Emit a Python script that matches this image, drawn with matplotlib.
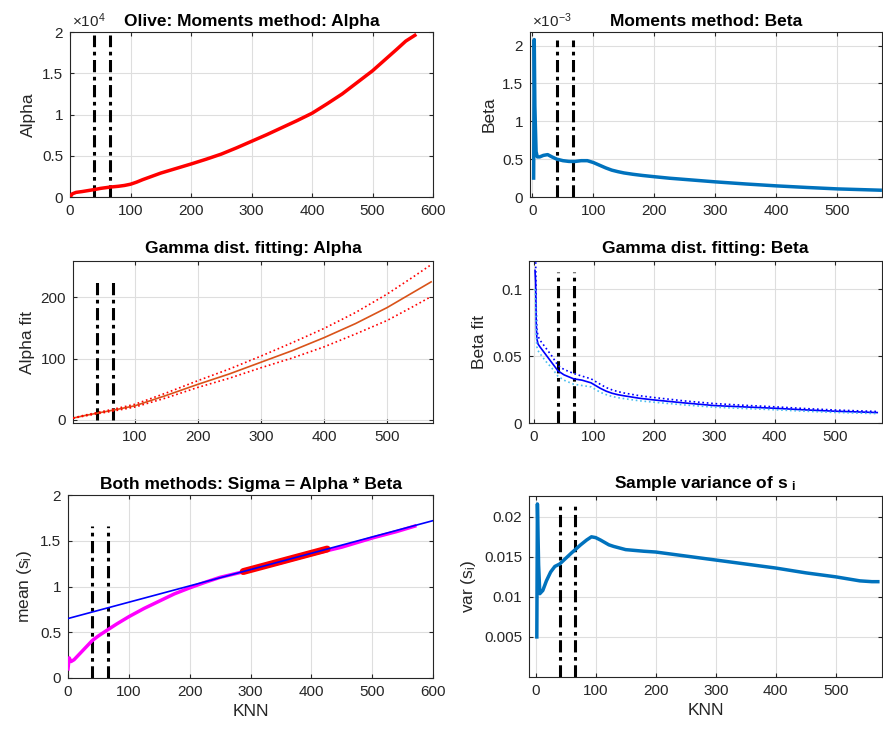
import numpy as np
import matplotlib.pyplot as plt
from matplotlib.ticker import FuncFormatter

plt.rcParams['font.family'] = ['Liberation Sans', 'DejaVu Sans']
plt.rcParams['mathtext.fontset'] = 'custom'
plt.rcParams['mathtext.rm'] = 'Liberation Sans'
plt.rcParams['mathtext.it'] = 'Liberation Sans'
plt.rcParams['mathtext.bf'] = 'Liberation Sans:bold'

# neighbourhood sizes marked on every panel
knn_marks = [40, 66]

# moments method
knn_a = [2, 3, 5, 10, 20, 30, 40, 50, 66, 80, 90, 100, 110, 120, 135, 150, 175, 200, 225, 250, 275, 300,
         325, 350, 375, 400, 425, 450, 475, 500, 520, 540, 555, 570]
alpha_mm = [200, 350, 420, 560, 660, 780, 900, 1040, 1200, 1300, 1400, 1550, 1800, 2100, 2500, 2900, 3450,
            4000, 4580, 5200, 5950, 6750, 7550, 8400, 9250, 10150, 11300, 12500, 13900, 15300, 16600, 17900,
            18900, 19600]

knn_b = [2, 3, 4, 6, 8, 12, 18, 25, 32, 40, 50, 60, 70, 80, 90, 100, 110, 120, 130, 140, 150, 165, 180, 200,
         225, 250, 300, 350, 400, 450, 500, 570]
beta_mm = [0.25e-3, 2.08e-3, 1.2e-3, 0.6e-3, 0.53e-3, 0.53e-3, 0.55e-3, 0.56e-3, 0.53e-3, 0.50e-3,
           0.48e-3, 0.47e-3, 0.47e-3, 0.48e-3, 0.48e-3, 0.455e-3, 0.42e-3, 0.385e-3, 0.355e-3, 0.335e-3,
           0.318e-3, 0.300e-3, 0.285e-3, 0.268e-3, 0.248e-3, 0.232e-3, 0.2e-3, 0.172e-3, 0.147e-3,
           0.126e-3, 0.107e-3, 0.09e-3]

# gamma fit with confidence bounds
knn_f = [2, 20, 40, 66, 100, 150, 200, 250, 300, 350, 400, 450, 500, 540, 570]
alpha_fit = [3, 7, 11, 16, 23, 40, 58, 75, 94, 113, 134, 157, 183, 207, 225]
alpha_up = [3.3, 7.7, 12, 17.5, 25.5, 44, 64, 83, 104, 126, 149, 175, 205, 232, 253]
alpha_lo = [2.7, 6.3, 10, 14.5, 21, 36, 53, 68, 85, 101, 119, 140, 162, 184, 201]

knn_g = [2, 3, 4, 5, 7, 10, 15, 20, 30, 40, 50, 66, 80, 95, 110, 120, 130, 140, 150, 175, 200, 250, 300, 350,
         400, 450, 500, 570]
beta_fit = [0.114, 0.105, 0.075, 0.063, 0.059, 0.057, 0.054, 0.051, 0.045, 0.039, 0.036, 0.033, 0.032, 0.030,
            0.026, 0.0238, 0.0222, 0.0211, 0.0203, 0.0185, 0.0172, 0.015, 0.013, 0.012, 0.011, 0.0098,
            0.0088, 0.0078]
beta_up = [0.13, 0.125, 0.085, 0.070, 0.065, 0.062, 0.059, 0.056, 0.050, 0.043, 0.040, 0.037, 0.035, 0.033,
           0.029, 0.0265, 0.0247, 0.0234, 0.0224, 0.0204, 0.019, 0.0165, 0.0145, 0.0132, 0.0121, 0.0108,
           0.0097, 0.0086]
beta_lo = [0.10, 0.09, 0.066, 0.057, 0.054, 0.052, 0.049, 0.046, 0.041, 0.035, 0.032, 0.029, 0.028, 0.027,
           0.023, 0.0212, 0.0198, 0.0189, 0.0182, 0.0166, 0.0155, 0.0135, 0.0118, 0.0108, 0.0099, 0.0088,
           0.0079, 0.0070]

# sample mean and variance of s_i
knn_m = [0, 2, 5, 10, 20, 30, 40, 50, 66, 80, 100, 125, 150, 175, 200, 225, 250, 300, 350, 400, 450, 500, 540, 570]
mean_s = [0.1, 0.22, 0.18, 0.2, 0.27, 0.34, 0.41, 0.46, 0.53, 0.59, 0.67, 0.76, 0.84, 0.92, 0.985, 1.045, 1.10,
          1.18, 1.26, 1.35, 1.43, 1.53, 1.60, 1.66]
lin_coef = [0.001783, 0.65]   # slope, intercept
lin_span = [0, 600]
fit_span = [288, 426]

knn_v = [2, 3, 5, 7, 12, 18, 25, 32, 40, 50, 60, 66, 75, 85, 93, 100, 108, 115, 122, 130, 140, 150, 165, 180, 200,
         250, 300, 350, 400, 450, 500, 540, 560, 570]
var_s = [0.005, 0.0216, 0.014, 0.0104, 0.0108, 0.0120, 0.0131, 0.0138, 0.0141, 0.0148, 0.0155, 0.0159, 0.0165,
         0.0171, 0.0175, 0.0174, 0.0171, 0.0168, 0.0165, 0.0163, 0.0161, 0.0159, 0.0158, 0.0157, 0.0156,
         0.0151, 0.0146, 0.0141, 0.0136, 0.0130, 0.0125, 0.0120, 0.0119, 0.0119]

dark = (0.15, 0.15, 0.15)
mblue = (0, 0.447, 0.741)
TICK = 11
LAB = 12.5
TTL = 12.5


def style(ax, xlim, ylim, xticks, yticks):
    ax.set_xlim(xlim)
    ax.set_ylim(ylim)
    ax.set_xticks(xticks)
    ax.set_yticks(yticks)
    ax.grid(True, color=(0.87, 0.87, 0.87), linewidth=0.8)
    ax.set_axisbelow(True)
    ax.tick_params(direction='in', top=True, right=True, length=3, labelsize=TICK,
                   colors=dark, pad=5)
    for s in ax.spines.values():
        s.set_color(dark)
        s.set_linewidth(0.8)


def marks(ax, top):
    for k in knn_marks:
        ax.plot([k, k], [0, top], color='k', linestyle=(0, (4, 1.5, 1.2, 1.5)), linewidth=2.2)


fig = plt.figure(figsize=(8.83, 7.34), dpi=100)

# top left
ax1 = fig.add_axes([0.0793, 0.7316, 0.4111, 0.2248])
ax1.plot(knn_a, alpha_mm, color='r', linewidth=2.5, zorder=3)
marks(ax1, max(alpha_mm))
style(ax1, (0, 600), (0, 20000), range(0, 601, 100), np.arange(0, 20001, 5000))
ax1.yaxis.set_major_formatter(FuncFormatter(lambda v, p: f'{v / 1e4:g}'))
ax1.text(0.005, 1.01, r'$\times$10$^4$', transform=ax1.transAxes, fontsize=TICK, color=dark, va='bottom')
ax1.set_ylabel('Alpha', fontsize=LAB, color=dark)
ax1.set_title('Olive: Moments method: Alpha', fontsize=TTL, fontweight='bold', pad=4)

# top right
ax2 = fig.add_axes([0.6002, 0.7316, 0.3987, 0.2248])
ax2.plot(knn_b, beta_mm, color=mblue, linewidth=2.5, zorder=3)
marks(ax2, max(beta_mm))
style(ax2, (-4, 573), (0, 2.18e-3), range(0, 501, 100), np.arange(0, 2.01e-3, 0.5e-3))
ax2.yaxis.set_major_formatter(FuncFormatter(lambda v, p: f'{v * 1e3:g}'))
ax2.text(0.005, 1.01, r'$\times$10$^{-3}$', transform=ax2.transAxes, fontsize=TICK, color=dark, va='bottom')
ax2.set_ylabel('Beta', fontsize=LAB, color=dark)
ax2.set_title('Moments method: Beta', fontsize=TTL, fontweight='bold', pad=4)

# middle left
ax3 = fig.add_axes([0.0827, 0.4237, 0.4077, 0.2207])
ax3.plot(knn_f, alpha_fit, color=(0.85, 0.325, 0.098), linewidth=1.2, zorder=3)
ax3.plot(knn_f, alpha_up, color='r', linestyle=':', linewidth=1.2, zorder=3)
ax3.plot(knn_f, alpha_lo, color='r', linestyle=':', linewidth=1.2, zorder=3)
marks(ax3, max(alpha_fit))
style(ax3, (2, 573), (-5, 259), range(100, 501, 100), [0, 100, 200])
ax3.set_ylabel('Alpha fit', fontsize=LAB, color=dark)
ax3.set_title('Gamma dist. fitting: Alpha', fontsize=TTL, fontweight='bold', pad=6)

# middle right
ax4 = fig.add_axes([0.5991, 0.4237, 0.3998, 0.2207])
ax4.plot(knn_g, beta_fit, color='b', linewidth=1.2, zorder=3)
ax4.plot(knn_g, beta_up, color='b', linestyle=':', linewidth=1.2, zorder=3)
ax4.plot(knn_g, beta_lo, color=(0.30, 0.745, 0.933), linestyle=':', linewidth=1.2, zorder=3)
marks(ax4, 0.113)
style(ax4, (-8, 578), (0, 0.121), range(0, 501, 100), [0, 0.05, 0.1])
ax4.yaxis.set_major_formatter(FuncFormatter(lambda v, p: f'{v:g}'))
ax4.set_ylabel('Beta fit', fontsize=LAB, color=dark)
ax4.set_title('Gamma dist. fitting: Beta', fontsize=TTL, fontweight='bold', pad=6)

# bottom left
ax5 = fig.add_axes([0.0770, 0.0763, 0.4134, 0.2493])
ax5.plot(knn_m, mean_s, color='magenta', linewidth=2.5, zorder=3)
fx = np.linspace(fit_span[0], fit_span[1], 40)
ax5.plot(fx, np.polyval(lin_coef, fx), color='r', linewidth=5, solid_capstyle='round', zorder=4)
ax5.plot(lin_span, np.polyval(lin_coef, lin_span), color='b', linewidth=1.2, zorder=5)
marks(ax5, max(mean_s))
style(ax5, (0, 600), (0, 2), range(0, 601, 100), np.arange(0, 2.01, 0.5))
ax5.yaxis.set_major_formatter(FuncFormatter(lambda v, p: f'{v:g}'))
ax5.set_ylabel(r'mean (s$_i$)', fontsize=LAB, color=dark)
ax5.set_xlabel('KNN', fontsize=LAB, color=dark)
ax5.set_title('Both methods: Sigma = Alpha * Beta', fontsize=TTL, fontweight='bold', pad=4)

# bottom right
ax6 = fig.add_axes([0.5991, 0.0777, 0.3998, 0.2466])
ax6.plot(knn_v, var_s, color=mblue, linewidth=2.5, zorder=3)
marks(ax6, 0.0213)
style(ax6, (-11, 577), (0, 0.0226), range(0, 501, 100), [0.005, 0.01, 0.015, 0.02])
ax6.yaxis.set_major_formatter(FuncFormatter(lambda v, p: f'{v:g}'))
ax6.set_ylabel(r'var (s$_i$)', fontsize=LAB, color=dark)
ax6.set_xlabel('KNN', fontsize=LAB, color=dark)
ax6.set_title(r'Sample variance of s $_\mathbf{i}$', fontsize=TTL, fontweight='bold', pad=6)

fig.savefig('out.png', dpi=100, facecolor='white')
